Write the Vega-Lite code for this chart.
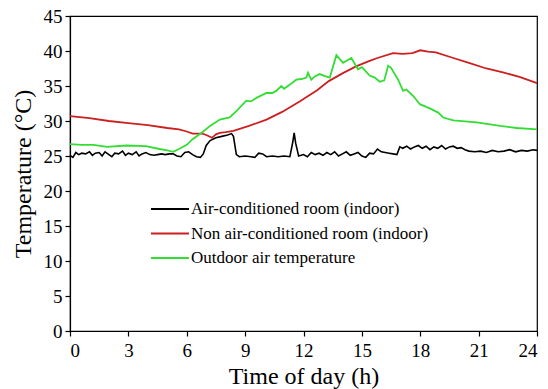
{
  "$schema": "https://vega.github.io/schema/vega-lite/v6.json",
  "width": 467,
  "height": 315,
  "autosize": {"type": "none"},
  "padding": {"left": 70, "top": 16, "right": 11, "bottom": 58},
  "background": "white",
  "config": {
    "font": "Liberation Serif",
    "view": {"stroke": "black", "strokeWidth": 1.2},
    "axis": {"grid": false, "domainColor": "black", "tickColor": "black", "labelColor": "black", "titleColor": "black", "labelFont": "Liberation Serif", "titleFont": "Liberation Serif", "labelFontSize": 19, "titleFontSize": 24, "titleFontWeight": "normal", "tickSize": 5, "domainWidth": 1.2, "tickWidth": 1.2},
    "legend": {"labelFont": "Liberation Serif"}
  },
  "datasets": {
    "ac": [
      {"t":0,"v":25.1},{"t":0.15,"v":24.8},{"t":0.3,"v":25.5},{"t":0.45,"v":25.2},{"t":0.6,"v":25.4},{"t":0.8,"v":25.3},{"t":1.0,"v":25.6},{"t":1.15,"v":25.1},{"t":1.3,"v":25.4},{"t":1.5,"v":25.5},{"t":1.65,"v":25.0},{"t":1.8,"v":25.6},{"t":2.0,"v":25.2},{"t":2.15,"v":24.9},{"t":2.3,"v":25.4},{"t":2.5,"v":25.3},{"t":2.7,"v":25.7},{"t":2.85,"v":25.1},{"t":3.0,"v":25.4},{"t":3.2,"v":25.2},{"t":3.4,"v":25.6},{"t":3.55,"v":25.0},{"t":3.7,"v":25.3},{"t":3.9,"v":25.5},{"t":4.1,"v":25.2},{"t":4.3,"v":25.1},{"t":4.5,"v":25.2},{"t":4.7,"v":25.3},{"t":4.9,"v":25.2},{"t":5.1,"v":25.3},{"t":5.3,"v":25.3},{"t":5.5,"v":25.0},{"t":5.7,"v":24.9},{"t":5.9,"v":25.5},{"t":6.1,"v":25.6},{"t":6.3,"v":25.2},{"t":6.5,"v":24.9},{"t":6.7,"v":24.8},{"t":6.85,"v":25.3},{"t":7.0,"v":26.5},{"t":7.2,"v":27.2},{"t":7.5,"v":27.6},{"t":7.8,"v":27.8},{"t":8.1,"v":28.0},{"t":8.3,"v":28.2},{"t":8.4,"v":27.8},{"t":8.55,"v":25.2},{"t":8.7,"v":24.9},{"t":9.0,"v":25.0},{"t":9.3,"v":24.9},{"t":9.5,"v":24.8},{"t":9.7,"v":25.4},{"t":9.9,"v":25.3},{"t":10.1,"v":24.9},{"t":10.4,"v":25.0},{"t":10.7,"v":24.9},{"t":11.0,"v":25.0},{"t":11.3,"v":24.9},{"t":11.45,"v":27.0},{"t":11.52,"v":28.3},{"t":11.6,"v":26.8},{"t":11.75,"v":25.0},{"t":12.0,"v":25.2},{"t":12.2,"v":24.9},{"t":12.4,"v":25.5},{"t":12.6,"v":25.2},{"t":12.8,"v":25.4},{"t":13.0,"v":25.1},{"t":13.2,"v":25.5},{"t":13.4,"v":25.2},{"t":13.6,"v":25.6},{"t":13.8,"v":25.0},{"t":14.0,"v":25.3},{"t":14.2,"v":25.6},{"t":14.4,"v":25.1},{"t":14.6,"v":25.3},{"t":14.8,"v":25.5},{"t":15.0,"v":25.0},{"t":15.2,"v":24.8},{"t":15.4,"v":25.4},{"t":15.6,"v":25.3},{"t":15.8,"v":26.0},{"t":16.0,"v":25.6},{"t":16.2,"v":25.5},{"t":16.4,"v":25.4},{"t":16.6,"v":25.3},{"t":16.8,"v":25.2},{"t":16.95,"v":26.3},{"t":17.1,"v":26.1},{"t":17.3,"v":26.4},{"t":17.5,"v":26.0},{"t":17.7,"v":26.3},{"t":17.9,"v":26.5},{"t":18.1,"v":26.1},{"t":18.3,"v":26.4},{"t":18.5,"v":25.9},{"t":18.7,"v":26.3},{"t":18.9,"v":26.1},{"t":19.1,"v":26.5},{"t":19.3,"v":26.0},{"t":19.5,"v":26.3},{"t":19.7,"v":26.4},{"t":19.9,"v":26.1},{"t":20.1,"v":26.2},{"t":20.3,"v":25.9},{"t":20.5,"v":25.7},{"t":20.8,"v":25.6},{"t":21.1,"v":25.7},{"t":21.4,"v":25.5},{"t":21.7,"v":25.8},{"t":22.0,"v":25.6},{"t":22.3,"v":25.7},{"t":22.6,"v":25.9},{"t":22.9,"v":25.6},{"t":23.2,"v":25.8},{"t":23.5,"v":25.7},{"t":23.8,"v":25.9},{"t":24,"v":25.8}
    ],
    "nac": [
      {"t":0,"v":30.7},{"t":1,"v":30.4},{"t":2,"v":30.0},{"t":3,"v":29.7},{"t":4,"v":29.4},{"t":5,"v":29.0},{"t":5.6,"v":28.8},{"t":6.0,"v":28.5},{"t":6.3,"v":28.2},{"t":6.8,"v":28.2},{"t":7.0,"v":28.0},{"t":7.3,"v":27.6},{"t":7.5,"v":28.1},{"t":7.7,"v":28.3},{"t":8.0,"v":28.4},{"t":8.4,"v":28.6},{"t":9.2,"v":29.3},{"t":10.1,"v":30.2},{"t":10.9,"v":31.3},{"t":11.8,"v":32.8},{"t":12.7,"v":34.4},{"t":13.3,"v":35.7},{"t":14.0,"v":36.8},{"t":14.7,"v":37.8},{"t":15.4,"v":38.6},{"t":15.8,"v":39.0},{"t":16.6,"v":39.7},{"t":17.1,"v":39.6},{"t":17.6,"v":39.7},{"t":18.0,"v":40.1},{"t":18.4,"v":39.9},{"t":18.8,"v":39.8},{"t":19.7,"v":39.0},{"t":20.5,"v":38.3},{"t":21.4,"v":37.5},{"t":22.3,"v":36.9},{"t":23.1,"v":36.3},{"t":24,"v":35.4}
    ],
    "out": [
      {"t":0,"v":26.7},{"t":0.6,"v":26.6},{"t":1.2,"v":26.6},{"t":1.9,"v":26.3},{"t":2.9,"v":26.5},{"t":3.9,"v":26.4},{"t":4.6,"v":26.0},{"t":5.0,"v":25.8},{"t":5.3,"v":25.6},{"t":5.6,"v":26.0},{"t":6.0,"v":26.6},{"t":6.3,"v":27.4},{"t":6.8,"v":28.4},{"t":7.2,"v":29.3},{"t":7.7,"v":30.2},{"t":8.2,"v":30.5},{"t":8.55,"v":31.4},{"t":9.06,"v":32.9},{"t":9.3,"v":32.8},{"t":9.58,"v":33.3},{"t":10.1,"v":34.0},{"t":10.4,"v":34.0},{"t":10.6,"v":34.3},{"t":10.86,"v":35.0},{"t":11.0,"v":34.6},{"t":11.3,"v":35.2},{"t":11.63,"v":35.9},{"t":11.9,"v":36.0},{"t":12.15,"v":36.2},{"t":12.23,"v":36.9},{"t":12.4,"v":35.9},{"t":12.6,"v":36.4},{"t":12.83,"v":36.7},{"t":13.1,"v":36.4},{"t":13.35,"v":36.2},{"t":13.69,"v":39.4},{"t":14.03,"v":38.3},{"t":14.46,"v":39.0},{"t":14.8,"v":37.4},{"t":15.0,"v":37.7},{"t":15.4,"v":36.5},{"t":15.66,"v":36.2},{"t":15.92,"v":35.6},{"t":16.15,"v":35.8},{"t":16.35,"v":37.9},{"t":16.5,"v":37.6},{"t":16.86,"v":35.9},{"t":17.12,"v":34.3},{"t":17.29,"v":34.5},{"t":17.63,"v":33.6},{"t":17.98,"v":32.4},{"t":18.49,"v":31.8},{"t":18.92,"v":31.2},{"t":19.18,"v":30.5},{"t":19.7,"v":30.1},{"t":20.9,"v":29.8},{"t":22.1,"v":29.3},{"t":22.95,"v":29.0},{"t":24,"v":28.8}
    ]
  },
  "encoding": {
    "x": {"field": "t", "type": "quantitative", "scale": {"domain": [0, 24], "nice": false, "zero": false}, "axis": {"values": [0,3,6,9,12,15,18,21,24], "title": "Time of day (h)", "titlePadding": 4, "labelPadding": 5, "labelFont": "Liberation Serif", "titleFont": "Liberation Serif"}},
    "y": {"field": "v", "type": "quantitative", "scale": {"domain": [0, 45], "nice": false}, "axis": {"values": [0,5,10,15,20,25,30,35,40,45], "title": "Temperature (°C)", "titlePadding": 8, "labelPadding": 3, "labelFont": "Liberation Serif", "titleFont": "Liberation Serif"}},
    "color": {"field": "s", "type": "nominal", "scale": {"domain": ["Air-conditioned room (indoor)", "Non air-conditioned room (indoor)", "Outdoor air temperature"], "range": ["#000000", "#cc2020", "#33dd33"]}, "legend": {"orient": "none", "legendX": 80, "legendY": 185, "title": null, "symbolType": "stroke", "symbolSize": 1444, "symbolStrokeWidth": 2, "clipHeight": 16, "labelFontSize": 17, "labelColor": "black", "labelLimit": 0, "rowPadding": 7.5, "labelOffset": 1}}
  },
  "layer": [
    {
      "data": {"name": "nac"},
      "transform": [{"calculate": "'Non air-conditioned room (indoor)'", "as": "s"}],
      "mark": {"type": "line", "strokeWidth": 1.8},
      "encoding": {}
    },
    {
      "data": {"name": "out"},
      "transform": [{"calculate": "'Outdoor air temperature'", "as": "s"}],
      "mark": {"type": "line", "strokeWidth": 1.8},
      "encoding": {}
    },
    {
      "data": {"name": "ac"},
      "transform": [{"calculate": "'Air-conditioned room (indoor)'", "as": "s"}],
      "mark": {"type": "line", "strokeWidth": 1.6},
      "encoding": {}
    }
  ]
}
